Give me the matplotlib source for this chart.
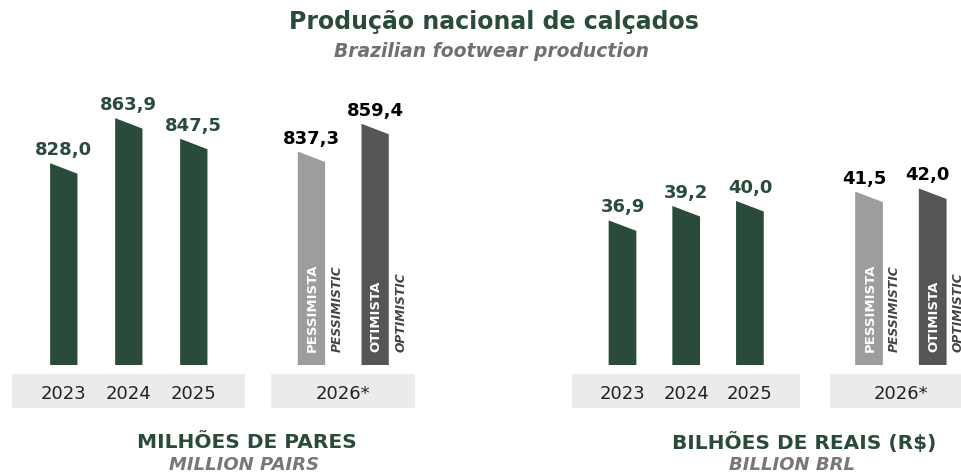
import matplotlib
matplotlib.use('Agg')
import matplotlib.pyplot as plt
from matplotlib.patches import Polygon, Rectangle

# ---------------- data ----------------
years = ['2023', '2024', '2025']
scenario_year = '2026*'
pairs_hist = [828.0, 863.9, 847.5]
pairs_scen = [837.3, 859.4]
brl_hist = [36.9, 39.2, 40.0]
brl_scen = [41.5, 42.0]
scen_pt = ['PESSIMISTA', 'OTIMISTA']
scen_en = ['PESSIMISTIC', 'OPTIMISTIC']
title = 'Produção nacional de calçados'
subtitle = 'Brazilian footwear production'
units_pt = ['MILHÕES DE PARES', 'BILHÕES DE REAIS (R$)']
units_en = ['MILLION PAIRS', 'BILLION BRL']

# ---------------- style ----------------
GREEN = '#2a4b3a'
PESS = '#9d9d9b'
OPT = '#555555'
BAND = '#ebebeb'
FONT = 'DejaVu Sans'

W, H, DPI = 961, 474, 100
fig = plt.figure(figsize=(W / DPI, H / DPI), dpi=DPI)
fig.patch.set_facecolor('white')

BASE_PX = 365  # baseline pixel row (from top)


def fmt(v):
    return f'{v:.1f}'.replace('.', ',')


def panel(ax_left_px, ax_right_px, first_px, step_px, scen_pos, base, slope,
          hist, scen, width, scen_label_dx):
    ax = fig.add_axes([ax_left_px / W, 0, (ax_right_px - ax_left_px) / W, 1])
    ax.set_axis_off()
    ax.set_xlim(-(first_px - ax_left_px) / step_px, (ax_right_px - first_px) / step_px)
    ax.set_ylim(base - (H - BASE_PX) / slope, base + BASE_PX / slope)
    slant = 10.5 / slope
    hist_pos = list(range(len(hist)))
    xt = ax.get_xaxis_transform()

    def bar(x, v, color, label_color, dx):
        pts = [(x - width / 2, base), (x - width / 2, v),
               (x + width / 2, v - slant), (x + width / 2, base)]
        ax.add_patch(Polygon(pts, closed=True, facecolor=color, edgecolor='none'))
        ax.annotate(fmt(v), xy=(x, v), xytext=(dx, 8), textcoords='offset pixels',
                    ha='center', va='baseline', fontsize=13, fontweight='heavy',
                    family=FONT, color=label_color)

    for x, v in zip(hist_pos, hist):
        bar(x, v, GREEN, GREEN, 0)
    for x, v, c in zip(scen_pos, scen, [PESS, OPT]):
        bar(x, v, c, 'black', scen_label_dx)

    for x, pt, en in zip(scen_pos, scen_pt, scen_en):
        ax.annotate(pt, xy=(x, base), xytext=(1, 13), textcoords='offset pixels',
                    rotation=90, ha='center', va='bottom', fontsize=9.5,
                    fontweight='bold', family=FONT, color='white')
        ax.annotate(en, xy=(x, base), xytext=(25.5, 13), textcoords='offset pixels',
                    rotation=90, ha='center', va='bottom', fontsize=8.8,
                    fontweight='bold', fontstyle='italic', family=FONT, color='#444444')

    y0 = (H - 408.3) / H
    y1 = (H - 374) / H
    g1c = sum(hist_pos) / len(hist_pos)
    g2c = sum(scen_pos) / len(scen_pos)
    ax.add_patch(Rectangle((g1c - 1.79, y0), 3.58, y1 - y0, transform=xt,
                           facecolor=BAND, edgecolor='none', clip_on=False))
    ax.add_patch(Rectangle((g2c - 1.11, y0), 2.22, y1 - y0, transform=xt,
                           facecolor=BAND, edgecolor='none', clip_on=False))
    ty = (H - 394) / H
    for x, yr in zip(hist_pos, years):
        ax.text(x, ty, yr, transform=xt, ha='center', va='center', fontsize=13,
                family=FONT, color='#222222')
    ax.text(g2c, ty, scenario_year, transform=xt, ha='center', va='center',
            fontsize=13, family=FONT, color='#222222')
    return ax


panel(0, 480, 63.8, 65.0, [3.81, 4.79], 667.3, 1.2557, pairs_hist, pairs_scen, 0.42, 0)
panel(480, 961, 622.5, 63.7, [3.87, 4.87], 13.8, 6.26, brl_hist, brl_scen, 0.435, -5)

fig.text(494 / W, 1 - 28.5 / H, title, ha='center', va='baseline', fontsize=17,
         fontweight='heavy', family=FONT, color=GREEN)
fig.text(492 / W, 1 - 56.7 / H, subtitle, ha='center', va='baseline', fontsize=13.5,
         fontweight='bold', fontstyle='italic', family=FONT, color='#707070')

for cx_pt, cx_en, pt, en in zip([247, 804], [244, 792], units_pt, units_en):
    fig.text(cx_pt / W, 1 - 448.5 / H, pt, ha='center', va='baseline', fontsize=14.5,
             fontweight='heavy', family=FONT, color=GREEN)
    fig.text(cx_en / W, 1 - 469.5 / H, en, ha='center', va='baseline', fontsize=13,
             fontweight='bold', fontstyle='italic', family=FONT, color='#777777')

fig.savefig('out.png', dpi=DPI, facecolor='white')
